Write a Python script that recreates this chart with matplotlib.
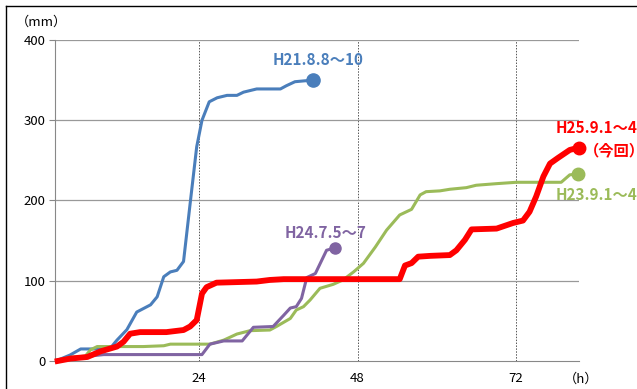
import matplotlib
matplotlib.use('Agg')
import matplotlib.pyplot as plt
from matplotlib.lines import Line2D

plt.rcParams['font.family'] = ['Noto Sans CJK JP', 'DejaVu Sans']

# hours elapsed / accumulated rainfall (mm)
h21_hours = [2.5, 4.4, 6, 8, 10.5, 11.5, 13, 14.5, 16.6, 17.6, 18.6, 19.6, 20.6, 21.6,
             22.6, 23.6, 24.4, 25.5, 26.7, 28.2, 29.7, 30.7, 32.7, 34.2, 36.3, 37.2,
             38.5, 39.8, 41.3]
h21_rain = [1, 7.5, 15, 15, 16, 26, 39, 61, 70, 80, 105, 111, 113, 124,
            196, 267, 300, 323, 328, 331, 331, 335, 339, 339, 339, 343,
            348, 349, 350]

h25_hours = [2.5, 4.4, 7, 9, 11.5, 12.5, 13.5, 15, 19, 21.6, 22.6, 23.6, 24.4, 25.1,
             26.6, 32.7, 34.7, 36.8, 54.4, 55.2, 56.2, 57.2, 59, 62, 63, 64.3, 65.3,
             69.1, 71.6, 73.1, 74.1, 75.1, 76.2, 77.2, 78.4, 80.2, 81.6]
h25_rain = [0, 3, 5, 12, 18, 24, 34, 36, 36, 38.6, 43, 51, 84, 92,
            97.6, 99, 101, 102, 102, 119, 122, 130, 131, 132, 138, 151, 164,
            165, 172, 175, 186, 205, 230, 246, 253, 263, 266]

h23_hours = [2.5, 4.4, 6.7, 7.5, 8.5, 15.5, 18.6, 19.6, 25.6, 27.7, 29.7, 31.7, 34.7,
             35.7, 37.8, 38.7, 39.8, 40.8, 42.3, 44.3, 45.8, 47.4, 48.9, 50.7, 52.4,
             54.4, 56.2, 57.5, 58.4, 60.5, 62, 64.5, 66, 69.1, 72.1, 78.9, 80.2, 81.5]
h23_rain = [1, 4.5, 6, 14, 18, 18, 19, 21, 21, 26, 33.6, 37.8, 38.6,
            43, 53, 63.5, 67.7, 76, 90.6, 95.5, 101, 111, 121.7, 142, 163,
            182, 189, 207, 211, 212, 214, 216, 219, 221, 222.7, 222.7, 232, 233]

h24_hours = [2.5, 6, 9.5, 24.4, 25.6, 27.7, 30.5, 32.2, 35.2, 36.8, 37.8, 38.7, 39.5,
             40.3, 41.6, 43.3, 44.6]
h24_rain = [1, 5, 8, 8, 21, 25, 25, 42, 43, 57, 66, 67.7, 78,
            104, 109, 138, 141]

BLUE = '#4a7ebb'
RED = '#ff0000'
GREEN = '#9bbb59'
PURPLE = '#8064a2'

fig = plt.figure(figsize=(6.37, 3.89), dpi=100)
ax = fig.add_axes([55/637, 1-361/389, 524/637, 321/389])

ax.plot(h21_hours, h21_rain, color=BLUE, lw=2.2, zorder=3)
ax.plot(h21_hours[-1], h21_rain[-1], 'o', color=BLUE, ms=9.5, zorder=4)
ax.plot(h23_hours, h23_rain, color=GREEN, lw=2.2, zorder=3)
ax.plot(h23_hours[-1], h23_rain[-1], 'o', color=GREEN, ms=9, zorder=4, clip_on=False)
ax.plot(h24_hours, h24_rain, color=PURPLE, lw=2.2, zorder=3)
ax.plot(h24_hours[-1], h24_rain[-1], 'o', color=PURPLE, ms=8, zorder=4)
ax.plot(h25_hours, h25_rain, color=RED, lw=4.2, zorder=5, clip_on=False)
ax.plot(h25_hours[-1], h25_rain[-1], 'o', color=RED, ms=9, zorder=6, clip_on=False)

ax.set_xlim(2.1, 81.6)
ax.set_ylim(0, 400)
ax.set_xticks([24, 48, 72])
ax.set_yticks([0, 100, 200, 300, 400])
ax.tick_params(axis='x', length=0, pad=8, labelsize=9.5)
ax.tick_params(axis='y', length=4, color='#888888', labelsize=9.5, pad=3)
for x in [24, 48, 72]:
    ax.axvline(x, color='#555555', lw=0.7, ls=(0, (1.5, 1.5)), zorder=1)
for y in [100, 200, 300, 400]:
    ax.axhline(y, color='#999999', lw=0.9, zorder=1)
for s in ['top', 'right']:
    ax.spines[s].set_visible(False)
ax.spines['left'].set_color('#888888')
ax.spines['bottom'].set_color('#888888')

fig.text(16/637, 1-22/389, '（mm）', fontsize=9.5, va='center', ha='left')
fig.text(564/637, 1-379/389, '（h）', fontsize=9.5, va='center', ha='left')

fig.text(273/637, 1-60/389, 'H21.8.8～10', color=BLUE, fontsize=11, fontweight='bold',
         va='center', ha='left')
fig.text(556/637, 1-128/389, 'H25.9.1～4', color=RED, fontsize=11, fontweight='bold',
         va='center', ha='left')
fig.text(584/637, 1-150/389, '（今回）', color=RED, fontsize=11, fontweight='bold',
         va='center', ha='left')
fig.text(556/637, 1-195/389, 'H23.9.1～4', color=GREEN, fontsize=11, fontweight='bold',
         va='center', ha='left')
fig.text(285/637, 1-233/389, 'H24.7.5～7', color=PURPLE, fontsize=11, fontweight='bold',
         va='center', ha='left')

# outer chart border (top and left edges visible)
fig.add_artist(Line2D([6/637, 1], [1-6/389, 1-6/389], color='black', lw=1))
fig.add_artist(Line2D([6/637, 6/637], [1-6/389, 0], color='black', lw=1))

fig.savefig('out.png', dpi=100)
